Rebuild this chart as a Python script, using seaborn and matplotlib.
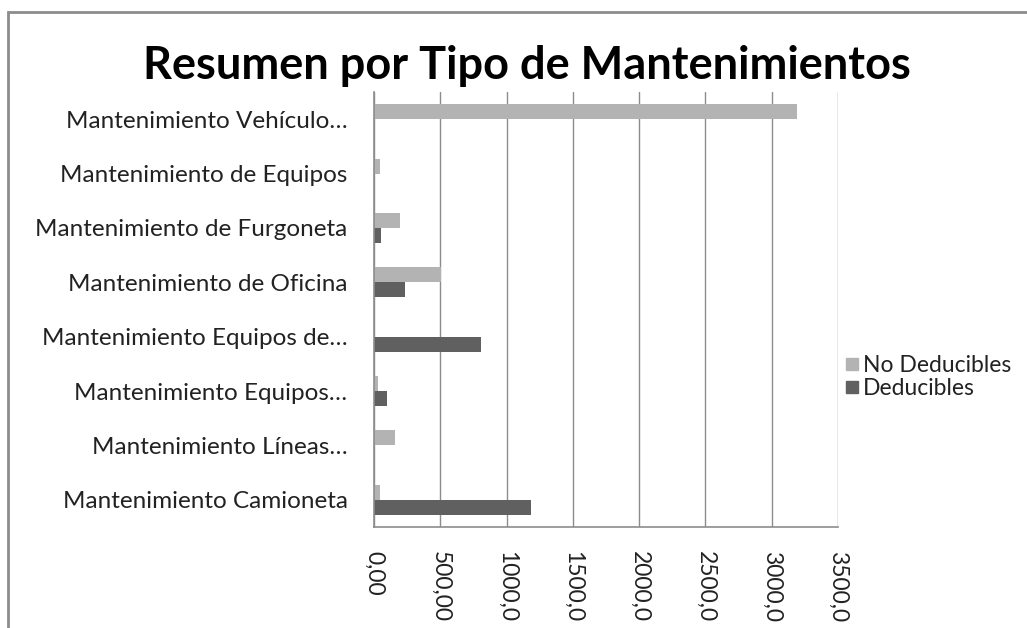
import numpy as np
import pandas as pd
import seaborn as sns
import matplotlib.pyplot as plt
from matplotlib.patches import Rectangle
from matplotlib.lines import Line2D

# Datos
categorias = [
    'Mantenimiento Vehículo…',
    'Mantenimiento de Equipos',
    'Mantenimiento de Furgoneta',
    'Mantenimiento de Oficina',
    'Mantenimiento Equipos de…',
    'Mantenimiento Equipos…',
    'Mantenimiento Líneas…',
    'Mantenimiento Camioneta',
]
no_deducibles = [3190, 45, 198, 502, 0, 33, 161, 45]
deducibles = [0, 0, 53, 236, 806, 100, 0, 1185]
series = ['No Deducibles', 'Deducibles']
colores = ['#b3b3b3', '#606060']
ticks = [0, 500, 1000, 1500, 2000, 2500, 3000, 3500]
tick_labels = ['0,00', '500,00', '1000,0', '1500,0', '2000,0', '2500,0', '3000,0', '3500,0']

df = pd.DataFrame({
    'categoria': categorias * 2,
    'valor': no_deducibles + deducibles,
    'serie': [series[0]] * len(categorias) + [series[1]] * len(categorias),
})

sns.set_style('white')
plt.rcParams['font.family'] = ['Lato', 'DejaVu Sans']

fig = plt.figure(figsize=(10.27, 6.28), dpi=100)
ax = fig.add_axes([374 / 1027, 1 - 527 / 628, (838 - 374) / 1027, (527 - 92) / 628])

sns.barplot(data=df, y='categoria', x='valor', hue='serie', hue_order=series,
            palette=colores, order=categorias, orient='h', width=0.55,
            saturation=1, ax=ax, legend=False, linewidth=0)

ax.set_xlim(0, 3500)
ax.set_xticks(ticks)
ax.set_xticklabels(tick_labels, rotation=-90, fontsize=16.5, color='#222222')
ax.tick_params(axis='x', length=4, color='#8c8c8c', pad=13)
ax.tick_params(axis='y', length=0, labelsize=17.5, labelcolor='#222222', pad=19)
ax.set_xlabel('')
ax.set_ylabel('')
ax.grid(axis='x', color='#8c8c8c', linewidth=1)
ax.set_axisbelow(True)
for s in ['top', 'right']:
    ax.spines[s].set_visible(False)
for s in ['left', 'bottom']:
    ax.spines[s].set_color('#8c8c8c')
    ax.spines[s].set_linewidth(1.2)

fig.text(527 / 1027, 1 - 66 / 628, 'Resumen por Tipo de Mantenimientos',
         ha='center', va='center', fontsize=32.5, fontweight='bold', color='black')

handles = [Line2D([0], [0], marker='s', linestyle='', markersize=8,
                  markerfacecolor=c, markeredgecolor=c) for c in colores]
fig.legend(handles, series, loc='center left', bbox_to_anchor=(834 / 1027, 1 - 377 / 628),
           frameon=False, fontsize=16.5, handletextpad=0.05, labelspacing=0.05,
           borderaxespad=0, handlelength=0.8, labelcolor='#222222')

# marco del gráfico
fig.patches.append(Rectangle((8 / 1027, -0.1), 1.2, 1 - 12 / 628 + 0.1,
                             transform=fig.transFigure, fill=False,
                             edgecolor='#8c8c8c', linewidth=2, clip_on=False))

fig.savefig('out.png', dpi=100)
